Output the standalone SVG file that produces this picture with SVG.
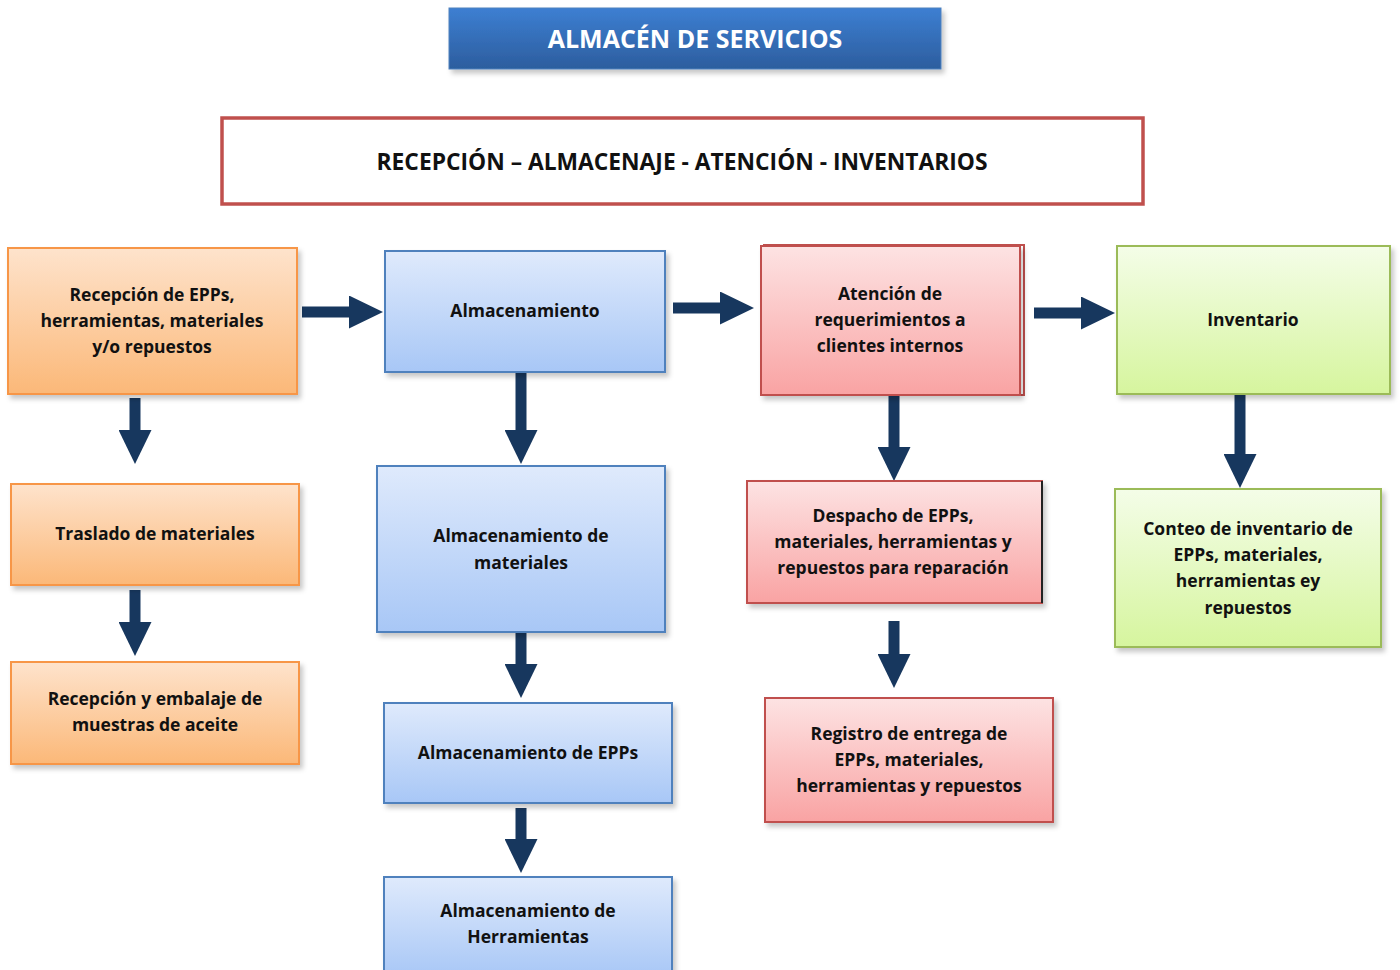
<svg xmlns="http://www.w3.org/2000/svg" width="1400" height="970" viewBox="0 0 1400 970">
<defs>
<linearGradient id="gTitle" x1="0" y1="0" x2="0" y2="1"><stop offset="0" stop-color="#3d7fd2"/><stop offset="1" stop-color="#2c5d9e"/></linearGradient>
<linearGradient id="gOr" x1="0" y1="0" x2="0" y2="1"><stop offset="0" stop-color="#fee3cc"/><stop offset="1" stop-color="#fbb878"/></linearGradient>
<linearGradient id="gBl" x1="0" y1="0" x2="0" y2="1"><stop offset="0" stop-color="#dfeafc"/><stop offset="1" stop-color="#a8c7f6"/></linearGradient>
<linearGradient id="gRd" x1="0" y1="0" x2="0" y2="1"><stop offset="0" stop-color="#fde3e3"/><stop offset="1" stop-color="#f9a3a3"/></linearGradient>
<linearGradient id="gGr" x1="0" y1="0" x2="0" y2="1"><stop offset="0" stop-color="#f4fde8"/><stop offset="1" stop-color="#d6f59e"/></linearGradient>
<filter id="sh" x="-10%" y="-10%" width="125%" height="130%"><feDropShadow dx="3" dy="4" stdDeviation="2.5" flood-color="#000" flood-opacity="0.22"/></filter>
<marker id="ah" viewBox="0 0 34 33" refX="0" refY="16.5" markerWidth="34" markerHeight="33" markerUnits="userSpaceOnUse" orient="auto"><path d="M0,0 L34,16.5 L0,33 Z" fill="#17375e"/></marker>
</defs>
<style>
text{font-family:"Open Sans","Liberation Sans",sans-serif;font-weight:700;text-anchor:middle;fill:#111}
.t{font-size:17.5px}
.or{fill:url(#gOr);stroke:#f79646;stroke-width:2}
.bl{fill:url(#gBl);stroke:#4f81bd;stroke-width:2}
.rd{fill:url(#gRd);stroke:#c0504d;stroke-width:2}
.gr{fill:url(#gGr);stroke:#9bbb59;stroke-width:2}
.c{stroke:#17375e;stroke-width:11;fill:none;marker-end:url(#ah)}
</style>
<rect width="1400" height="970" fill="#fff"/>
<g id="title">
<rect x="449" y="8" width="492" height="61" fill="url(#gTitle)" stroke="#4f81bd" stroke-width="1" filter="url(#sh)"/>
<text x="695" y="48" style="font-size:25px;fill:#fff">ALMACÉN DE SERVICIOS</text>
</g>
<g id="subtitle">
<rect x="222" y="118" width="921" height="86" fill="#fff" stroke="#c0504d" stroke-width="3.5"/>
<text x="682" y="170" style="font-size:22.8px">RECEPCIÓN – ALMACENAJE - ATENCIÓN - INVENTARIOS</text>
</g>
<g id="connectors">
<line class="c" x1="302" y1="312" x2="349" y2="312"/>
<line class="c" x1="673" y1="308" x2="720" y2="308"/>
<line class="c" x1="1034" y1="313" x2="1081" y2="313"/>
<line class="c" x1="135" y1="398" x2="135" y2="430"/>
<line class="c" x1="135" y1="590" x2="135" y2="622"/>
<line class="c" x1="521" y1="372" x2="521" y2="430"/>
<line class="c" x1="521" y1="632" x2="521" y2="664"/>
<line class="c" x1="521" y1="808" x2="521" y2="839"/>
<line class="c" x1="894" y1="388" x2="894" y2="447"/>
<line class="c" x1="894" y1="621" x2="894" y2="654"/>
<line class="c" x1="1240" y1="393" x2="1240" y2="454"/>
</g>
<g id="n-recepcion">
<rect class="or" x="8" y="248" width="289" height="146" filter="url(#sh)"/>
<text class="t" x="152" y="301">Recepción de EPPs,</text>
<text class="t" x="152" y="327">herramientas, materiales</text>
<text class="t" x="152" y="353">y/o repuestos</text>
</g>
<g id="n-traslado">
<rect class="or" x="11" y="484" width="288" height="101" filter="url(#sh)"/>
<text class="t" x="155" y="540">Traslado de materiales</text>
</g>
<g id="n-muestras">
<rect class="or" x="11" y="662" width="288" height="102" filter="url(#sh)"/>
<text class="t" x="155" y="705">Recepción y embalaje de</text>
<text class="t" x="155" y="731">muestras de aceite</text>
</g>
<g id="n-almacenamiento">
<rect class="bl" x="385" y="251" width="280" height="121" filter="url(#sh)"/>
<text class="t" x="525" y="317">Almacenamiento</text>
</g>
<g id="n-alm-materiales">
<rect class="bl" x="377" y="466" width="288" height="166" filter="url(#sh)"/>
<text class="t" x="521" y="542">Almacenamiento de</text>
<text class="t" x="521" y="569">materiales</text>
</g>
<g id="n-alm-epps">
<rect class="bl" x="384" y="703" width="288" height="100" filter="url(#sh)"/>
<text class="t" x="528" y="759">Almacenamiento de EPPs</text>
</g>
<g id="n-alm-herr">
<rect class="bl" x="384" y="877" width="288" height="100" filter="url(#sh)"/>
<text class="t" x="528" y="917">Almacenamiento de</text>
<text class="t" x="528" y="943">Herramientas</text>
</g>
<g id="n-atencion">
<rect x="764" y="245" width="260" height="150" fill="none" stroke="#c0504d" stroke-width="2"/>
<rect class="rd" x="761" y="246" width="259" height="149" filter="url(#sh)"/>
<text class="t" x="890" y="300">Atención de</text>
<text class="t" x="890" y="326">requerimientos a</text>
<text class="t" x="890" y="352">clientes internos</text>
</g>
<g id="n-despacho">
<rect class="rd" x="747" y="481" width="295" height="122" filter="url(#sh)"/>
<line x1="1042" y1="481" x2="1042" y2="603" stroke="#222" stroke-width="2"/>
<text class="t" x="893" y="522">Despacho de EPPs,</text>
<text class="t" x="893" y="548">materiales, herramientas y</text>
<text class="t" x="893" y="574">repuestos para reparación</text>
</g>
<g id="n-registro">
<rect class="rd" x="765" y="698" width="288" height="124" filter="url(#sh)"/>
<text class="t" x="909" y="740">Registro de entrega de</text>
<text class="t" x="909" y="766">EPPs, materiales,</text>
<text class="t" x="909" y="792">herramientas y repuestos</text>
</g>
<g id="n-inventario">
<rect class="gr" x="1117" y="246" width="273" height="148" filter="url(#sh)"/>
<text class="t" x="1253" y="326">Inventario</text>
</g>
<g id="n-conteo">
<rect class="gr" x="1115" y="489" width="266" height="158" filter="url(#sh)"/>
<text class="t" x="1248" y="535">Conteo de inventario de</text>
<text class="t" x="1248" y="561">EPPs, materiales,</text>
<text class="t" x="1248" y="587">herramientas ey</text>
<text class="t" x="1248" y="614">repuestos</text>
</g>
</svg>
